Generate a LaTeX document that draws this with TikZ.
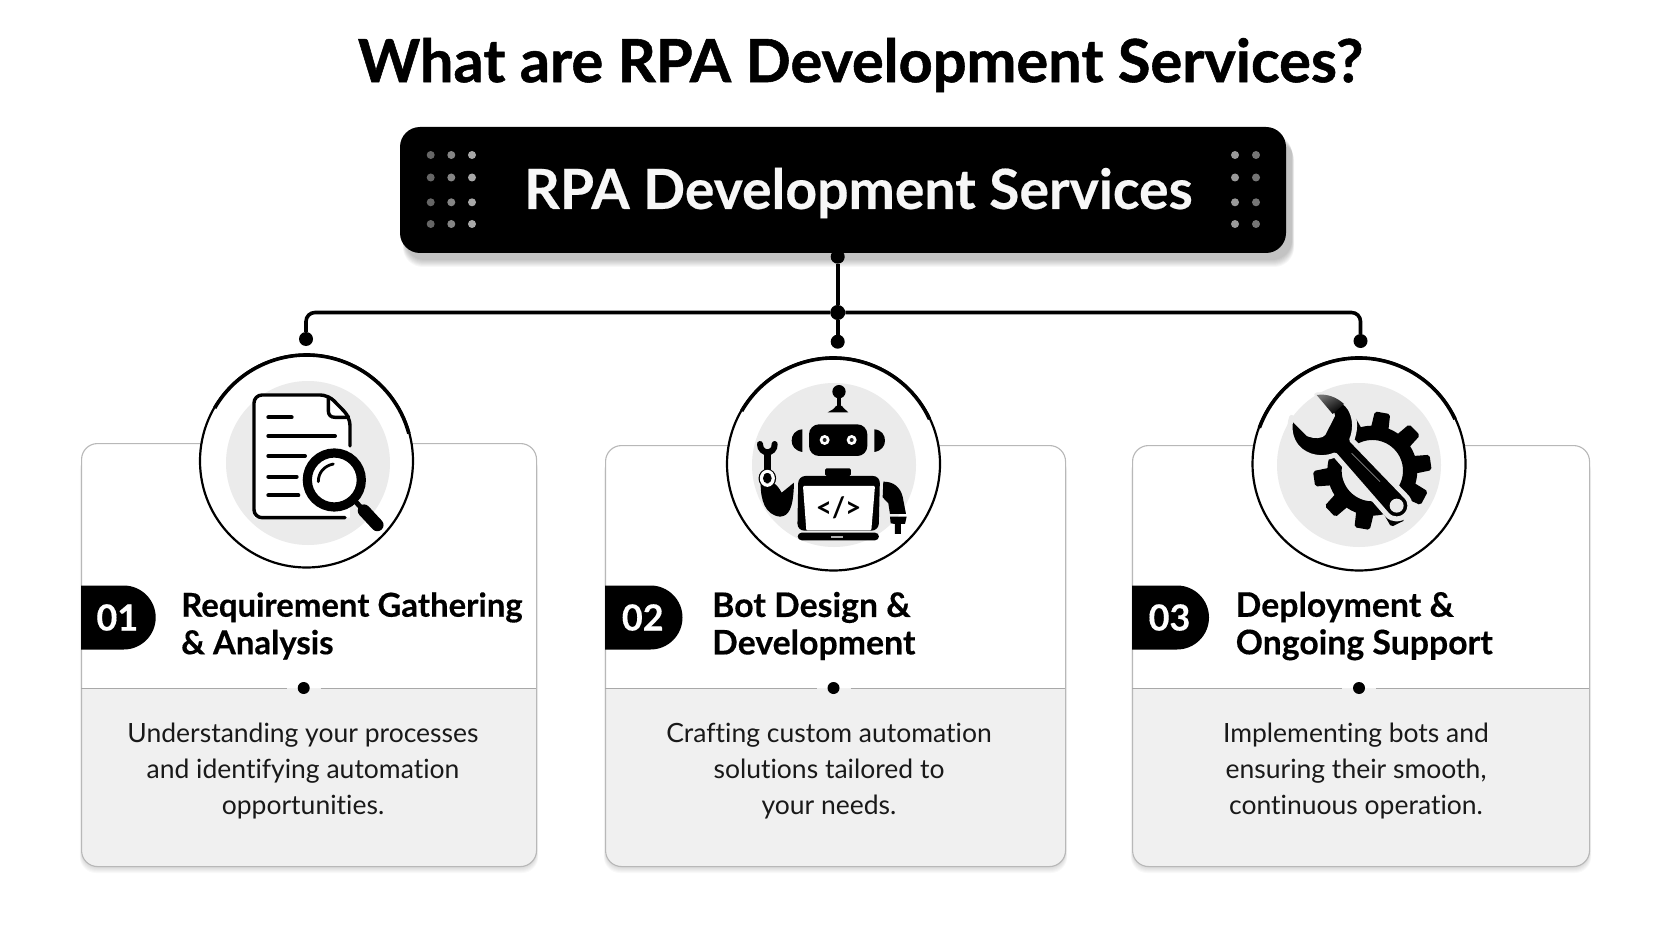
\documentclass[tikz,border=0pt]{standalone}
\usepackage{fontspec}
\setmainfont{Lato}[Ligatures=CommonOff]
\newfontfamily\titlefont{Lato}[Ligatures=CommonOff,BoldFeatures={FakeBold=0.9}]
\newfontfamily\barfont{Lato}[Ligatures=CommonOff,BoldFeatures={FakeBold=0.35}]
\usetikzlibrary{calc}
\definecolor{disc}{HTML}{EBEBEB}
\definecolor{panel}{HTML}{F0F0F0}
\definecolor{edge}{HTML}{B8B8B8}
\definecolor{rule}{HTML}{A8A8A8}
\tikzset{
  cardbox/.style={draw=edge,line width=1.1pt,rounded corners=16pt,fill=none,anchor=north west,inner sep=0pt},
  bigring/.style={circle,draw=black,line width=2.2pt,fill=white,minimum size=213pt,inner sep=0pt},
  joint/.style={circle,fill=black,minimum size=#1,inner sep=0pt},
  joint/.default=14pt,
  link/.style={draw=black,line width=3.6pt,rounded corners=9pt},
  heading/.style={font=\barfont\bfseries\fontsize{32.9}{37.5}\selectfont,align=left,anchor=west,inner sep=0pt,text=black},
  headingwide/.style={font=\barfont\bfseries\fontsize{33.8}{37.5}\selectfont,align=left,anchor=west,inner sep=0pt,text=black},
  bodytext/.style={font=\fontsize{26.5}{36}\selectfont,align=center,anchor=center,inner sep=0pt,text=black!90},
  numtext/.style={font=\barfont\bfseries\fontsize{36}{40}\selectfont,text=white,inner sep=0pt},
  iconline/.style={line width=4pt,line cap=round,draw=black},
  gridspot/.style={circle,inner sep=0pt,minimum size=8pt},
}
\newcommand{\softshadow}[6]{% x1 y1 x2 y2 radius strength
  \foreach \i in {0,1,2,3,4,5,6,7}{
    \fill[black,opacity=#6,rounded corners=#5]
      ({#1-\i*0.3+1},{#2+\i}) rectangle ({#3+\i*0.3},{#4+\i});
  }
}
\newcommand{\cardpanel}[6]{% name x1 y1 x2 y2 dot-x
  \softshadow{#2}{#3+4}{#4}{#5}{16pt}{0.022}
  \fill[white,rounded corners=16pt] (#2,#3) rectangle (#4,#5);
  \fill[panel,rounded corners=16pt] (#2,#5-40) rectangle (#4,#5);
  \fill[panel] (#2,688) rectangle (#4,#5-20);
  \node[cardbox,minimum width={#4-#2},minimum height={#5-#3}] (#1) at (#2,#3) {};
  \node[joint=12pt] (#1dot) at (#6,688) {};
  \draw[rule,line width=.9pt] (#2,688) -- ($(#1dot)+(-17,0)$);
  \draw[rule,line width=.9pt] ($(#1dot)+(17,0)$) -- (#4,688);
}
\newcommand{\tagpill}[5]{% name x1 y1 x2 text
  \fill[black] (#2,#3) -- (#4-32,#3) arc[start angle=90,end angle=-90,x radius=32,y radius=-32] -- (#2,{#3+64}) -- cycle;
  \node[numtext] (#1) at ({(#2+#4)/2-1},{#3+32}) {#5};
}
\begin{document}
\begin{tikzpicture}[x=1pt,y=-1pt]
\useasboundingbox (0,0) rectangle (1672,941);
\fill[white] (0,0) rectangle (1672,941);

\node[font=\titlefont\bfseries\fontsize{59.5}{64}\selectfont,text=black,inner sep=0pt] (title) at (860.5,65) {What are RPA Development Services?};

% header bar
\softshadow{404}{134}{1292}{260}{20pt}{0.03}
\node[rectangle,rounded corners=20pt,fill=black,minimum width=886pt,minimum height=126pt,inner sep=0pt] (bar) at (843,190) {};
\node[font=\barfont\bfseries\fontsize{55.3}{60}\selectfont,text=white!97!black,inner sep=0pt] (bartext) at (858.5,193) {RPA Development Services};
\foreach \x/\c in {430.7/40,451.3/52,472/66}{
  \foreach \y in {155,177.5,202.3,224}{
    \node[gridspot,fill=white!\c!black] at (\x,\y) {};
  }
}
\foreach \x/\c in {1235/60,1256/46}{
  \foreach \y in {155,177.5,202.3,224}{
    \node[gridspot,fill=white!\c!black] at (\x,\y) {};
  }
}

% cards
\cardpanel{cardA}{81}{443}{536}{866}{303.7}
\cardpanel{cardB}{605}{445}{1065}{866}{833.5}
\cardpanel{cardC}{1132}{445}{1589}{866}{1359}

% connectors
\node[joint=14pt] (tdot) at (837.7,256.7) {};
\node[joint=15pt] (junc) at (837.7,312.5) {};
\node[joint=14pt] (mdot) at (837.7,341.7) {};
\node[joint=14pt] (ldot) at (306,339) {};
\node[joint=14pt] (rdot) at (1360.5,341) {};
\draw[link] (tdot) -- (junc);
\draw[link] (junc) -- (mdot);
\draw[link] (junc) -| (ldot);
\draw[link] (junc) -| (rdot);

% icon rings
\node[bigring] (ringA) at (306.5,461) {};
\node[bigring] (ringB) at (833.5,464) {};
\node[bigring] (ringC) at (1359,464) {};
\draw[line width=3.6pt] ([shift={(306.5,461)}]-15:106) arc[start angle=-15,end angle=-150,radius=106];
\draw[line width=3.6pt] ([shift={(833.5,464)}]-25:106) arc[start angle=-25,end angle=-150,radius=106];
\draw[line width=3.6pt] ([shift={(1359,464)}]-25:106) arc[start angle=-25,end angle=-160,radius=106];
\fill[disc] (308,463) circle (82);
\fill[disc] (834,465) circle (82);
\fill[disc] (1359,465) circle (82);

% document + magnifier, reference-crop coordinates
\begin{scope}[shift={(180,340)},x=.3333pt,y=-.3333pt]
  \fill[white] (222,165) -- (445,165) -- (510,232) -- (510,533) -- (222,533) -- cycle;
  \draw[line width=3.4pt,line cap=round,line join=round,rounded corners=8pt]
    (510,318) -- (510,232) -- (445,165) -- (222,165) -- (222,533) -- (495,533);
  \draw[line width=3.4pt,line join=round] (445,168) -- (445,212) .. controls (445,225) and (452,232) .. (465,232) -- (510,232);
  \foreach \y/\e in {232/335,288/465,348/375,410/350,466/355}{
    \draw[iconline] (265,\y) -- (\e,\y);
  }
  \fill[white] (463,420) circle (88);
  \draw[line width=9.2pt] (463,420) circle (81);
  \draw[line width=2.8pt,line cap=round] (415,425) .. controls (415,398) and (432,378) .. (460,372);
  \draw[line width=5pt] (525,483) -- (548,508);
  \draw[line width=12.5pt,line cap=round] (552,512) -- (592,555);
\end{scope}

% robot
\begin{scope}[shift={(710,340)},x=.3333pt,y=-.3333pt]
  \fill (387,155) circle (20);
  \draw[line width=4.6pt] (387,172) -- (387,205);
  \fill (353,217) .. controls (362,212) and (372,208) .. (378,198) -- (396,198) .. controls (402,208) and (412,212) .. (415,217) -- cycle;
  \fill[rounded corners=10pt] (297,253) rectangle (472,348);
  \foreach \x in {344,425}{
    \fill[white] (\x,300) circle (15);
    \fill[black!85] (\x,300) circle (6);
  }
  \fill (277,268) .. controls (255,270) and (245,285) .. (245,302) .. controls (245,318) and (255,332) .. (277,336) -- cycle;
  \fill (493,268) .. controls (515,270) and (525,285) .. (525,302) .. controls (525,318) and (515,332) .. (493,336) -- cycle;
  \fill[rounded corners=1.5pt] (345,385) rectangle (423,408);
  % laptop frame
  \fill[rounded corners=7pt] (262,572) -- (265,408) -- (510,408) -- (506,572) -- cycle;
  \fill[white,rounded corners=1pt] (289,571) -- (279,438) -- (495,438) -- (484,571) -- cycle;
  \fill[rounded corners=4pt] (263,578) rectangle (507,601);
  \fill[black!30] (362,587) rectangle (398,593);
  \node[font=\bfseries\fontsize{28}{30}\selectfont,inner sep=0pt] (code) at (386,504) {</>};
  % wrench arm
  \draw[line width=6pt,line cap=round] (150,312) .. controls (150,345) and (195,345) .. (194,312);
  \draw[line width=6.5pt] (172,338) -- (172,405);
  \fill (152,432) .. controls (152,480) and (165,525) .. (210,530) .. controls (235,528) and (250,510) .. (252,428) -- (215,458) .. controls (208,445) and (200,435) .. (192,430) -- cycle;
  \draw[line width=1.6pt] (172,415) ellipse (24 and 26);
  \draw[white,line width=3pt] (172,415) ellipse (18 and 21);
  \fill (172,415) ellipse (13 and 15);
  % right arm
  \fill (520,425) .. controls (550,425) and (570,440) .. (578,470) -- (588,522) -- (540,522) -- (535,490) -- (518,472) -- cycle;
  \fill (540,530) -- (590,530) -- (585,552) -- (573,552) -- (573,582) -- (555,582) -- (555,552) -- (542,550) -- cycle;
\end{scope}

% wrench and gear
\begin{scope}[shift={(1240,340)},x=.3333pt,y=-.3333pt]
  \begin{scope}[shift={(397,392)}]
    \fill[even odd rule] (0,0) circle (135) (0,0) circle (92);
    \foreach \a in {-80,-44,-8,28,64,100,136,172,-152,-116}{
      \fill[rounded corners=2pt] (\a-12:128) -- (\a-7.5:178) -- (\a+7.5:178) -- (\a+12:128) -- cycle;
    }
  \end{scope}
  \draw[disc,line width=5pt,fill=black,line join=round]
    (230,165) .. controls (270,160) and (310,175) .. (330,205)
    .. controls (350,240) and (345,275) .. (335,300)
    -- (498,469) .. controls (514,485) and (514,509) .. (498,525)
    .. controls (482,541) and (458,541) .. (442,525)
    -- (285,345) .. controls (250,360) and (200,355) .. (170,320)
    .. controls (150,295) and (145,260) .. (155,232)
    -- (205,282) .. controls (225,290) and (245,287) .. (250,280) -- (278,225) -- cycle;
  \shade[left color=black!55,right color=black,shading angle=30]
    (230,165) .. controls (262,160) and (290,172) .. (312,192) -- (278,222) -- cycle;
  \fill[disc] (470,497) circle (21);
  \draw[black!45,line width=.8pt] (335,340) -- (420,425);
\end{scope}

% number tags and headings
\tagpill{numA}{81}{585.5}{155.7}{01}
\tagpill{numB}{605}{585.5}{682.5}{02}
\tagpill{numC}{1132}{585.5}{1209}{03}
\node[heading] (headA) at (181,626) {Requirement Gathering\\\& Analysis};
\node[headingwide] (headB) at (712,626) {Bot Design \&\\Development};
\node[headingwide] (headC) at (1235.5,626) {Deployment \&\\Ongoing Support};

% body
\node[bodytext] (bodyA) at (303,771) {Understanding your processes\\and identifying automation\\opportunities.};
\node[bodytext] (bodyB) at (829,771) {Crafting custom automation\\solutions tailored to\\your needs.};
\node[bodytext] (bodyC) at (1356,771) {Implementing bots and\\ensuring their smooth,\\continuous operation.};
\end{tikzpicture}
\end{document}
